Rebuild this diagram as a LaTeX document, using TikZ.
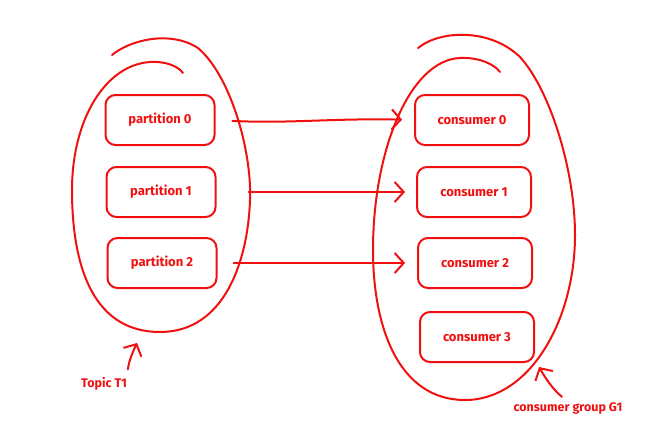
\documentclass[tikz,border=0pt]{standalone}
\usepackage{fontspec}
\setmainfont{Fira Sans}
\usetikzlibrary{arrows.meta,bending}
\definecolor{sk}{HTML}{F01010}
\tikzset{
  sketch/.style={draw=sk, line width=2pt, line cap=round, line join=round},
  box/.style={sketch, rounded corners=10pt, minimum width=109pt, minimum height=50pt, inner sep=0pt,
    text=sk, font=\fontsize{13}{15}\selectfont\bfseries},
  lab/.style={text=sk, font=\fontsize{12.5}{15}\selectfont\bfseries, inner sep=0pt},
  conn/.style={sketch, -{Straight Barb[length=9pt, width=20pt, line width=2pt]}},
}
\begin{document}
\begin{tikzpicture}[x=1pt,y=-1pt]
\useasboundingbox (0,0) rectangle (653,428);
% topic egg
\draw[sketch] (112,55) .. controls (130,40) and (170,30) .. (198,48)
  .. controls (230,75) and (252,150) .. (250,200)
  .. controls (248,260) and (225,332) .. (160,332)
  .. controls (95,332) and (72,270) .. (72,190)
  .. controls (72,120) and (105,65) .. (150,62)
  .. controls (165,61) and (178,66) .. (183,73);
% consumer group egg
\draw[sketch] (418,48) .. controls (440,30) and (490,28) .. (520,57)
  .. controls (550,90) and (575,170) .. (575,235)
  .. controls (575,320) and (530,400) .. (465,400)
  .. controls (400,400) and (373,330) .. (373,250)
  .. controls (373,150) and (410,60) .. (460,58)
  .. controls (480,57) and (495,65) .. (500,72);
% boxes
\node[box] (p0) at (160,120) {partition 0};
\node[box] (p1) at (161,192) {partition 1};
\node[box] (p2) at (162,263) {partition 2};
\node[box, minimum width=114pt] (c0) at (472,120) {consumer 0};
\node[box, minimum width=114pt] (c1) at (474,192) {consumer 1};
\node[box, minimum width=114pt] (c2) at (475,263) {consumer 2};
\node[box, minimum width=114pt] (c3) at (477,337) {consumer 3};
% connectors
\draw[conn, shorten <=17pt, shorten >=12pt] (p0.east) to[out=-3, in=178] (c0.west);
\draw[conn, shorten <=32pt, shorten >=11pt] (p1.east) to[out=0, in=180] (c1.west);
\draw[conn, shorten <=16pt, shorten >=12pt] (p2.east) to[out=0, in=180] (c2.west);
% labels
\node[lab] (t1) at (104,384) {Topic T1};
\node[lab] (g1) at (568,408) {consumer group G1};
\coordinate (t1a) at (137,343);
\coordinate (g1a) at (539,367);
\draw[conn, shorten <=8pt] (t1.north east) to[bend left=10] (t1a);
\draw[conn, shorten <=8pt] (g1.north) to[bend left=10] (g1a);
\end{tikzpicture}
\end{document}
